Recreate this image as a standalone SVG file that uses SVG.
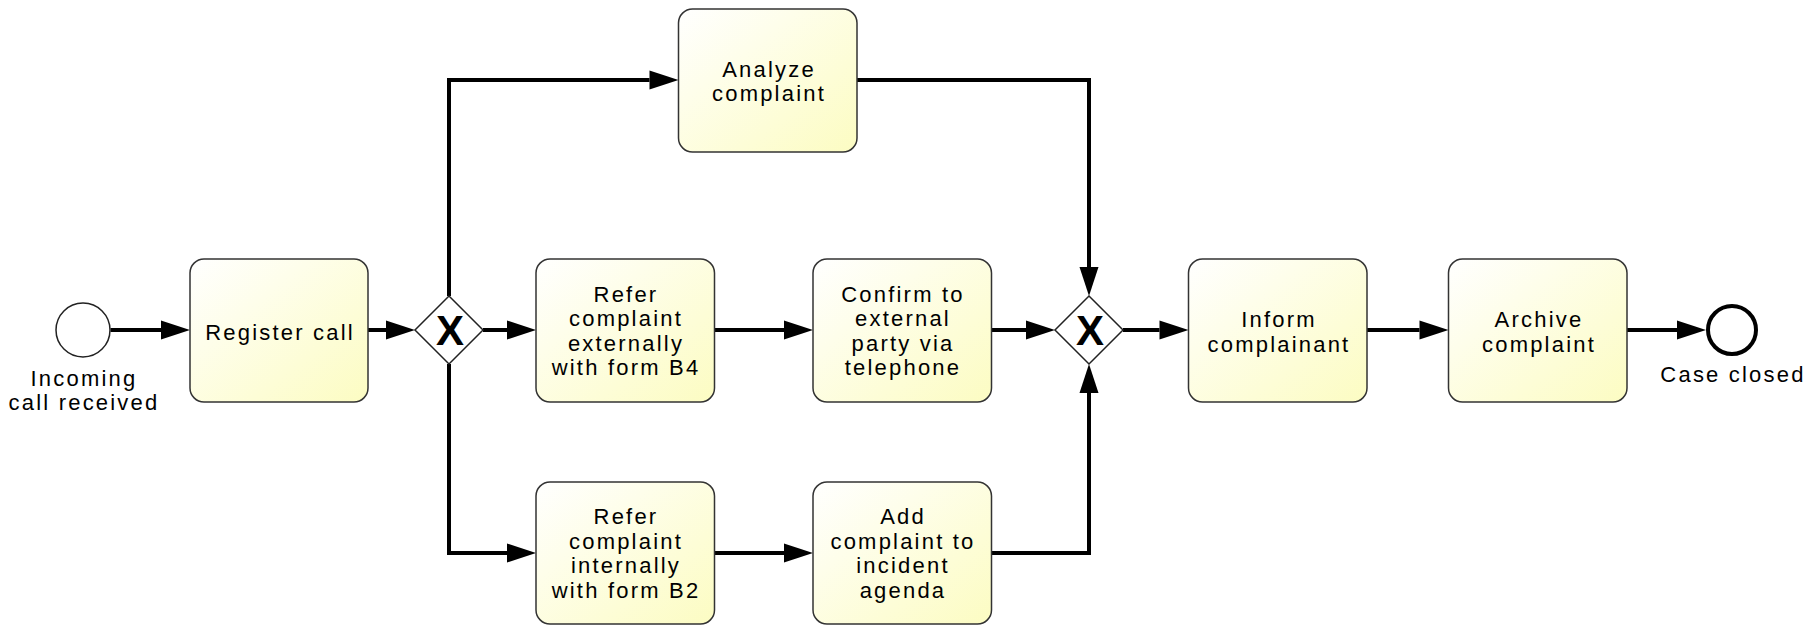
<svg xmlns="http://www.w3.org/2000/svg" width="1816" height="626" viewBox="0 0 1816 626">
<style>
.task{fill:url(#tg);stroke:#333;stroke-width:1.5}
.t{font-family:"Liberation Sans",Arial,sans-serif;font-size:22px;letter-spacing:2.2px;fill:#000;text-anchor:middle}
.gw{fill:#fff;stroke:#222;stroke-width:1.5}
.gx{font-family:"Liberation Sans",Arial,sans-serif;font-size:42px;font-weight:bold;fill:#000;text-anchor:middle}
.flow{fill:none;stroke:#000;stroke-width:4;stroke-linejoin:miter;marker-end:url(#arr)}
</style>
<defs>
<linearGradient id="tg" x1="0" y1="0" x2="1" y2="1">
<stop offset="0" stop-color="#ffffff"/>
<stop offset="1" stop-color="#fcfcc2"/>
</linearGradient>
<marker id="arr" markerUnits="userSpaceOnUse" markerWidth="30" markerHeight="20" refX="0" refY="9.5" orient="auto" overflow="visible">
<path d="M0,0 L29,9.5 L0,19 Z" fill="#000"/>
</marker>
</defs>
<rect width="1816" height="626" fill="#fff"/>
<g id="connectors">
<path class="flow" d="M110.5,330 H161"/>
<path class="flow" d="M368,330 H386"/>
<path class="flow" d="M449,296 V80 H649.5"/>
<path class="flow" d="M483,330 H507"/>
<path class="flow" d="M449,364 V553 H507"/>
<path class="flow" d="M714.5,330 H784"/>
<path class="flow" d="M714.5,553 H784"/>
<path class="flow" d="M857,80 H1089 V267"/>
<path class="flow" d="M991.5,330 H1026"/>
<path class="flow" d="M991.5,553 H1089 V393"/>
<path class="flow" d="M1123,330 H1159.5"/>
<path class="flow" d="M1367,330 H1419.5"/>
<path class="flow" d="M1627,330 H1677"/>
</g>
<g id="start">
<circle cx="83" cy="330" r="27" fill="#fff" stroke="#222" stroke-width="1.5"/>
<text class="t" x="84" y="386">Incoming</text>
<text class="t" x="84" y="410">call received</text>
</g>
<g id="register">
<rect class="task" x="190" y="259" width="178" height="143" rx="14"/>
<text class="t" x="280" y="340">Register call</text>
</g>
<g id="gw1">
<path class="gw" d="M449,296 L483,330 L449,364 L415,330 Z"/>
<text class="gx" x="450" y="345">X</text>
</g>
<g id="analyze">
<rect class="task" x="678.5" y="9" width="178.5" height="143" rx="14"/>
<text class="t" x="769" y="76.5">Analyze</text>
<text class="t" x="769" y="100.5">complaint</text>
</g>
<g id="referExt">
<rect class="task" x="536" y="259" width="178.5" height="143" rx="14"/>
<text class="t" x="626" y="301.5">Refer</text>
<text class="t" x="626" y="326">complaint</text>
<text class="t" x="626" y="350.5">externally</text>
<text class="t" x="626" y="375">with form B4</text>
</g>
<g id="confirm">
<rect class="task" x="813" y="259" width="178.5" height="143" rx="14"/>
<text class="t" x="903" y="301.5">Confirm to</text>
<text class="t" x="903" y="326">external</text>
<text class="t" x="903" y="350.5">party via</text>
<text class="t" x="903" y="375">telephone</text>
</g>
<g id="referInt">
<rect class="task" x="536" y="482" width="178.5" height="142" rx="14"/>
<text class="t" x="626" y="524">Refer</text>
<text class="t" x="626" y="548.5">complaint</text>
<text class="t" x="626" y="573">internally</text>
<text class="t" x="626" y="597.5">with form B2</text>
</g>
<g id="addAgenda">
<rect class="task" x="813" y="482" width="178.5" height="142" rx="14"/>
<text class="t" x="903" y="524">Add</text>
<text class="t" x="903" y="548.5">complaint to</text>
<text class="t" x="903" y="573">incident</text>
<text class="t" x="903" y="597.5">agenda</text>
</g>
<g id="gw2">
<path class="gw" d="M1089,296 L1123,330 L1089,364 L1055,330 Z"/>
<text class="gx" x="1090" y="345">X</text>
</g>
<g id="inform">
<rect class="task" x="1188.5" y="259" width="178.5" height="143" rx="14"/>
<text class="t" x="1279" y="327">Inform</text>
<text class="t" x="1279" y="351.5">complainant</text>
</g>
<g id="archive">
<rect class="task" x="1448.5" y="259" width="178.5" height="143" rx="14"/>
<text class="t" x="1539" y="327">Archive</text>
<text class="t" x="1539" y="351.5">complaint</text>
</g>
<g id="end">
<circle cx="1732" cy="330" r="24" fill="#fff" stroke="#000" stroke-width="4"/>
<text class="t" x="1733" y="381.5">Case closed</text>
</g>
</svg>
